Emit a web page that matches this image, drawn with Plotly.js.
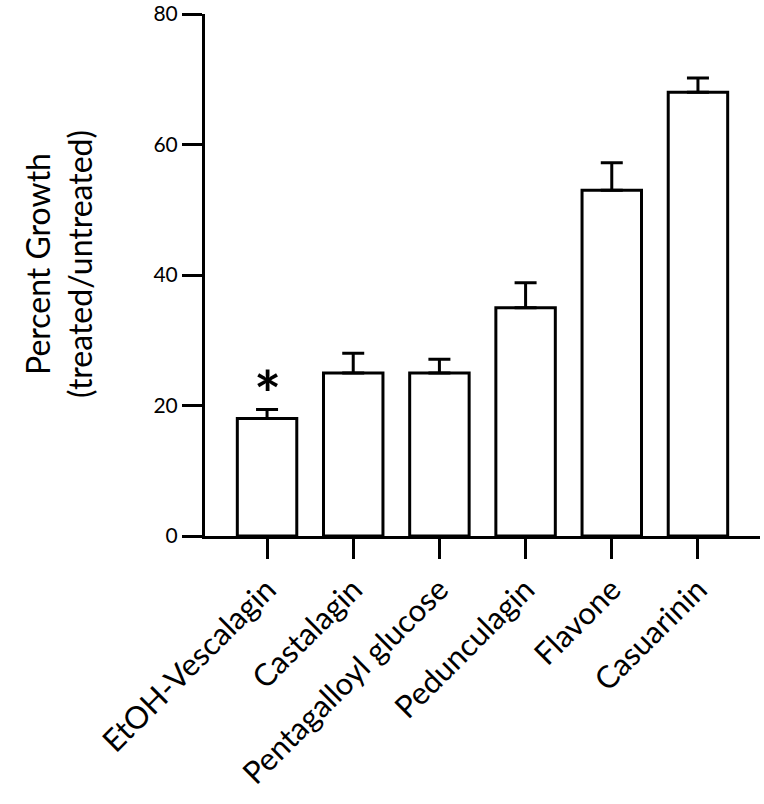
<!DOCTYPE html>
<html>
<head>
<meta charset="utf-8">
<script src="https://cdn.plot.ly/plotly-3.0.1.min.js"></script>
<style>html,body{margin:0;padding:0;background:#fff;}</style>
</head>
<body>
<div id="chart" style="width:764px;height:804px;"></div>
<script>
const categories = ["EtOH-Vescalagin", "Castalagin", "Pentagalloyl glucose", "Pedunculagin", "Flavone", "Casuarinin"];
const growth = [18, 25, 25, 35, 53, 68];
const errorPlus = [1.4, 3.0, 2.1, 3.8, 4.2, 2.2];
const yTicks = [0, 20, 40, 60, 80];
const significance = ["*", "", "", "", "", ""];
const yTitle = "Percent Growth<br>(treated/untreated)";

const font = "Lato, 'Open Sans', sans-serif";

const trace = {
  type: "bar",
  x: categories,
  y: growth,
  width: 0.69,
  marker: {color: "#ffffff", line: {color: "#000000", width: 3}},
  error_y: {type: "data", symmetric: false, array: errorPlus, arrayminus: errorPlus.map(() => 0),
            color: "#000000", thickness: 3, width: 11},
  hoverinfo: "skip"
};

const annotations = [];
categories.forEach((c, i) => {
  if (significance[i]) {
    annotations.push({x: c, y: growth[i] + errorPlus[i], xref: "x", yref: "y",
      text: "<b>" + significance[i] + "</b>", showarrow: false, yanchor: "bottom", yshift: -25,
      font: {family: font, size: 64, color: "#000"}});
  }
});
annotations.push({x: 0, y: 0.52, xref: "paper", yref: "paper", xanchor: "right", yanchor: "middle",
  xshift: -104, textangle: -90, showarrow: false, text: yTitle,
  font: {family: font, size: 32, color: "#000"}});

const layout = {
  width: 764, height: 804,
  margin: {l: 205, r: 4, t: 14, b: 268},
  paper_bgcolor: "#fff", plot_bgcolor: "#fff",
  showlegend: false,
  font: {family: font, color: "#000"},
  xaxis: {
    type: "category", range: [-0.72, 5.72],
    showline: true, linecolor: "#000", linewidth: 3,
    ticks: "outside", ticklen: 20, tickwidth: 3, tickcolor: "#000",
    tickangle: -45, tickfont: {family: font, size: 31, color: "#000"},
    showgrid: false, zeroline: false, fixedrange: true
  },
  yaxis: {
    range: [0, 80], tickvals: yTicks, ticktext: yTicks.map(String),
    showline: true, linecolor: "#000", linewidth: 3,
    ticks: "outside", ticklen: 20, tickwidth: 3, tickcolor: "#000",
    tickfont: {family: font, size: 21, color: "#000"}, ticklabeloverflow: "allow",
    showgrid: false, zeroline: false, fixedrange: true
  },
  annotations: annotations
};

Plotly.newPlot("chart", [trace], layout, {displayModeBar: false, staticPlot: true});
</script>
</body>
</html>
